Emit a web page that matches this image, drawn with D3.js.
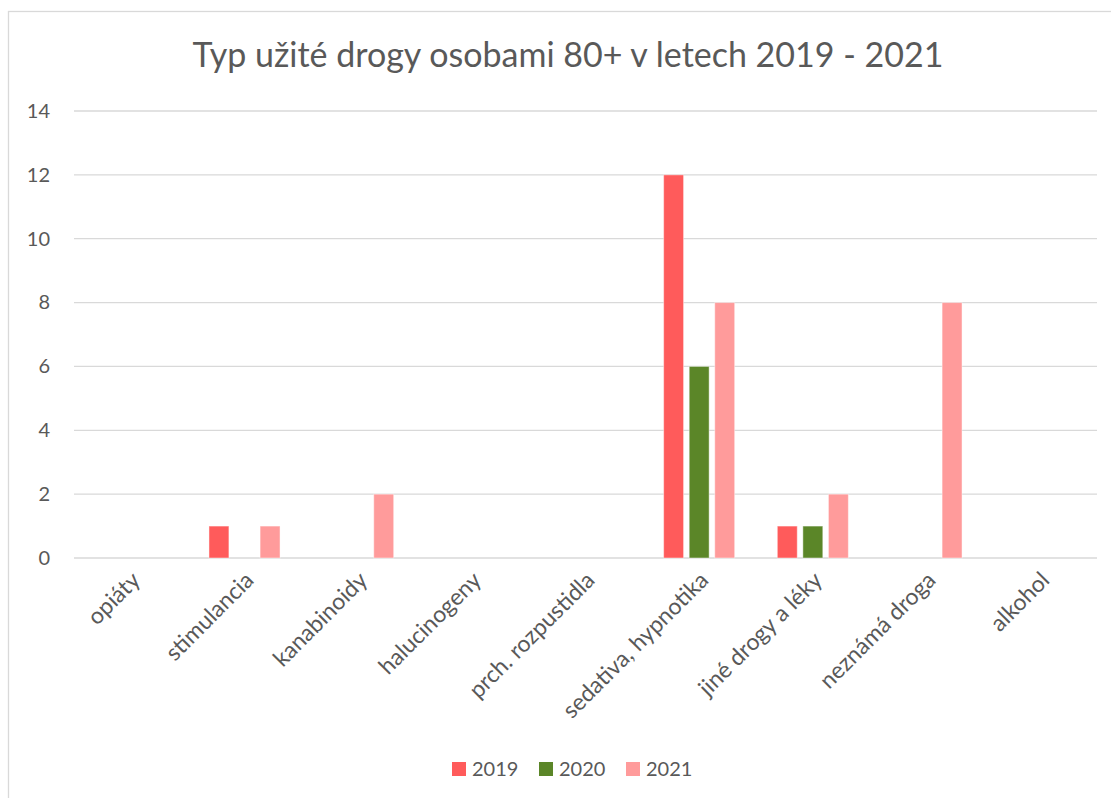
<!DOCTYPE html>
<html>
<head>
<meta charset="utf-8">
<script src="https://cdn.jsdelivr.net/npm/d3@7"></script>
<style>
  body { margin: 0; background: #fff; }
  text { font-family: Lato, "Open Sans", sans-serif; fill: #595959; }
</style>
</head>
<body>
<div id="chart"></div>
<script>
// data
var categories = ["opiáty", "stimulancia", "kanabinoidy", "halucinogeny", "prch. rozpustidla",
                  "sedativa, hypnotika", "jiné drogy a léky", "neznámá droga", "alkohol"];
var years = ["2019", "2020", "2021"];
var values2019 = [0, 1, 0, 0, 0, 12, 1, 0, 0];
var values2020 = [0, 0, 0, 0, 0, 6, 1, 0, 0];
var values2021 = [0, 1, 2, 0, 0, 8, 2, 8, 0];
var yTicks = [0, 2, 4, 6, 8, 10, 12, 14];
var title = "Typ užité drogy osobami 80+ v letech 2019 - 2021";

var colors = {"2019": "#FF5B5B", "2020": "#5B8628", "2021": "#FF9B9B"};

var W = 1111, H = 798;
var margin = {top: 111, left: 74, right: 14, bottom: 240};
var width = W - margin.left - margin.right,
    height = H - margin.top - margin.bottom;

var svg = d3.select("#chart").append("svg")
    .attr("width", W)
    .attr("height", H);

// chart frame (only top and left are visible in the picture)
svg.append("rect")
    .attr("x", 8.5).attr("y", 11.5)
    .attr("width", W + 20).attr("height", H + 20)
    .attr("fill", "none")
    .attr("stroke", "#D9D9D9")
    .attr("stroke-width", 1.3);

svg.append("text")
    .attr("x", 568).attr("y", 67)
    .attr("text-anchor", "middle")
    .style("font-size", "34px")
    .text(title);

var g = svg.append("g")
    .attr("transform", "translate(" + margin.left + "," + margin.top + ")");

var x0 = d3.scaleBand().domain(categories).range([0, width]);
var groupW = x0.bandwidth() * 0.625;
var x1 = d3.scaleBand().domain(years).range([-groupW / 2, groupW / 2]).paddingInner(0.22);
var y = d3.scaleLinear().domain([0, 14]).range([height, 0]);

// gridlines
g.append("g")
  .selectAll("line")
  .data(yTicks)
  .enter().append("line")
    .attr("x1", 0).attr("x2", width)
    .attr("y1", function(d) { return y(d); })
    .attr("y2", function(d) { return y(d); })
    .attr("stroke", "#D9D9D9")
    .attr("stroke-width", 1.3);

// y axis labels
var yAxis = g.append("g")
    .call(d3.axisLeft(y).tickValues(yTicks).tickSize(0).tickPadding(24));
yAxis.select(".domain").remove();
yAxis.selectAll("text")
    .style("font-size", "20px")
    .style("font-family", "Lato, sans-serif")
    .attr("fill", "#595959");

// bars
var rows = categories.map(function(c, i) {
  return {cat: c, vals: [
    {year: "2019", v: values2019[i]},
    {year: "2020", v: values2020[i]},
    {year: "2021", v: values2021[i]}
  ]};
});

var groups = g.selectAll(".grp")
  .data(rows)
  .enter().append("g")
    .attr("transform", function(d) { return "translate(" + (x0(d.cat) + x0.bandwidth() / 2) + ",0)"; });

groups.selectAll("rect")
  .data(function(d) { return d.vals.filter(function(e) { return e.v > 0; }); })
  .enter().append("rect")
    .attr("x", function(d) { return x1(d.year); })
    .attr("width", x1.bandwidth())
    .attr("y", function(d) { return y(d.v); })
    .attr("height", function(d) { return y(0) - y(d.v); })
    .attr("fill", function(d) { return colors[d.year]; })
    .attr("stroke", "#fff")
    .attr("stroke-opacity", 0.45)
    .attr("stroke-width", 1);

// x axis labels, rotated
var xAxis = g.append("g")
    .attr("transform", "translate(0," + height + ")")
    .call(d3.axisBottom(x0).tickSize(0).tickPadding(0));
xAxis.select(".domain").remove();
xAxis.selectAll("text")
    .style("font-size", "23px")
    .style("font-family", "Lato, sans-serif")
    .attr("fill", "#595959")
    .attr("text-anchor", "end")
    .attr("dy", "0.35em")
    .attr("transform", "translate(5,18) rotate(-45)");

// legend
var legendX = [452, 539, 626];
var legend = svg.append("g");
years.forEach(function(yr, i) {
  var lg = legend.append("g").attr("transform", "translate(" + legendX[i] + ",762)");
  lg.append("rect").attr("width", 14).attr("height", 14).attr("fill", colors[yr]);
  lg.append("text").attr("x", 20).attr("y", 7).attr("dy", "0.36em")
    .style("font-size", "20px").text(yr);
});
</script>
</body>
</html>
